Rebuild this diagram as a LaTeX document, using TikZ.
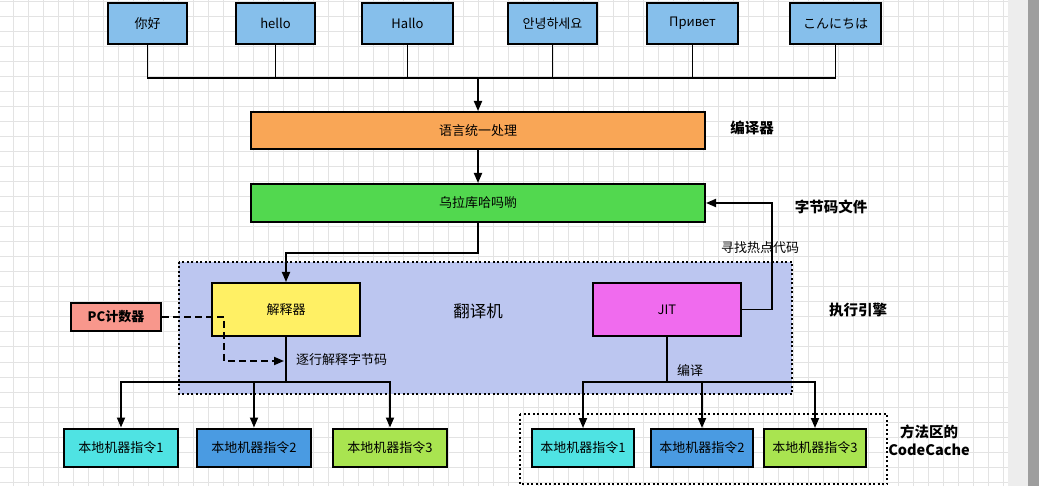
\documentclass[tikz,border=0pt]{standalone}
\usepackage{fontspec}
\setmainfont{Noto Sans CJK SC}
\usetikzlibrary{arrows.meta}
\definecolor{greetblue}{HTML}{86BFEB}
\definecolor{unifyorange}{HTML}{F9A656}
\definecolor{codegreen}{HTML}{52D84F}
\definecolor{enginefill}{HTML}{BCC6F0}
\definecolor{interpyellow}{HTML}{FFF064}
\definecolor{jitpink}{HTML}{F06BEE}
\definecolor{pcred}{HTML}{F8978C}
\definecolor{nativecyan}{HTML}{4FE3E3}
\definecolor{nativeblue}{HTML}{4A9BE2}
\definecolor{nativelime}{HTML}{A9E450}
\definecolor{gridgray}{HTML}{E3E3E3}
\tikzset{
  box/.style={draw=black, line width=2pt, inner sep=0pt, font=\fontsize{13}{15}\selectfont},
  greet/.style={box, fill=greetblue, minimum width=#1, minimum height=41},
  native/.style={box, fill=#1, minimum height=38},
  note/.style={inner sep=0pt, font=\fontsize{13}{15}\selectfont},
  tag/.style={inner sep=0pt, font=\fontsize{14.5}{18}\selectfont\bfseries},
  link/.style={line width=1.8pt},
  arr/.style={link, -{Triangle[length=10pt,width=8pt]}},
  frame/.style={line width=2pt, dash pattern=on 2pt off 2.5pt},
}

\begin{document}
\begin{tikzpicture}[x=1pt, y=-1pt]
\useasboundingbox (0,0) rectangle (1039,486);
% canvas grid and scroll bar
\fill[white] (0,0) rectangle (1008,486);
\foreach \gx in {13,28,...,1003}
  \draw[gridgray, line width=1pt] (\gx,0) -- (\gx,486);
\foreach \gy in {2,17,...,482}
  \draw[gridgray, line width=1pt] (0,\gy) -- (1008,\gy);
\fill[black!7] (1008,0) rectangle (1028,486);
\fill[black!38] (1028,0) rectangle (1039,486);

% execution engine area
\draw[frame, fill=enginefill] (179,262) rectangle (792,394);
\draw[frame] (520,414) rectangle (887,484);

% greetings
\node[greet=79] (hi1) at (147.5,23.5) {你好};
\node[greet=79] (hi2) at (275.5,23.5) {hello};
\node[greet=91] (hi3) at (407.5,23.5) {Hallo};
\node[greet=89] (hi4) at (552.5,23.5) {안녕하세요};
\node[greet=91] (hi5) at (692.5,23.5) {Привет};
\node[greet=91] (hi6) at (835.5,23.5) {こんにちは};

\node[box, fill=unifyorange, minimum width=454, minimum height=37] (unify) at (478,130.5) {语言统一处理};
\node[box, fill=codegreen, minimum width=454, minimum height=38] (bytecode) at (478,203) {乌拉库哈吗喲};

\node[box, fill=interpyellow, minimum width=148, minimum height=53] (interp) at (286,309.5) {解释器};
\node[box, fill=jitpink, minimum width=148, minimum height=53] (jit) at (667,309.5) {JIT};
\node[box, fill=pcred, minimum width=90, minimum height=28, font=\fontsize{13}{15}\selectfont\bfseries] (pc) at (116,317) {PC计数器};
\node[inner sep=0pt, font=\fontsize{16.5}{19}\selectfont] (engine) at (478,311) {翻译机};

\node[native=nativecyan, minimum width=114] (nl1) at (121,447.5) {本地机器指令1};
\node[native=nativeblue, minimum width=114] (nl2) at (254,447.5) {本地机器指令2};
\node[native=nativelime, minimum width=114] (nl3) at (390,447.5) {本地机器指令3};
\node[native=nativecyan, minimum width=102] (nr1) at (583,448) {本地机器指令1};
\node[native=nativeblue, minimum width=102] (nr2) at (702,448) {本地机器指令2};
\node[native=nativelime, minimum width=102] (nr3) at (815,448) {本地机器指令3};

% side labels
\node[tag] (compiler) at (752,128) {编译器};
\node[tag] (classfile) at (831,207) {字节码文件};
\node[tag] (exec) at (858,310) {执行引擎};
\node[tag, align=center] (cache) at (929,440) {方法区的\\CodeCache};
\node[note] (hotspot) at (760,248) {寻找热点代码};
\node[note, anchor=west] (stepwise) at (296,360) {逐行解释字节码};
\node[note, anchor=west] (compile) at (677,371) {编译};

% connectors
\coordinate (bus) at (478,78);
\foreach \n in {hi1,hi2,hi3,hi4,hi5,hi6}
  \draw[link] (\n.south) |- (bus);
\draw[arr] (bus) -- (unify.north);
\draw[arr] (unify) -- (bytecode);
\draw[arr] (bytecode.south) -- ++(0,30) -| (interp.north);
\draw[arr] (jit.east) -- ++(30,0) |- (bytecode.east);

\coordinate (pcend) at (284,361);
\draw[arr, dashed, dash pattern=on 7pt off 4pt] (pc.east) -- ++(62,0) |- (pcend);

\draw[link] (interp.south) -- ++(0,45) coordinate (lsplit);
\foreach \n in {nl1,nl2,nl3}
  \draw[arr] (lsplit) -| (\n.north);
\draw[link] (jit.south) -- ++(0,45) coordinate (rsplit);
\foreach \n in {nr1,nr2,nr3}
  \draw[arr] (rsplit) -| (\n.north);
\end{tikzpicture}
\end{document}
